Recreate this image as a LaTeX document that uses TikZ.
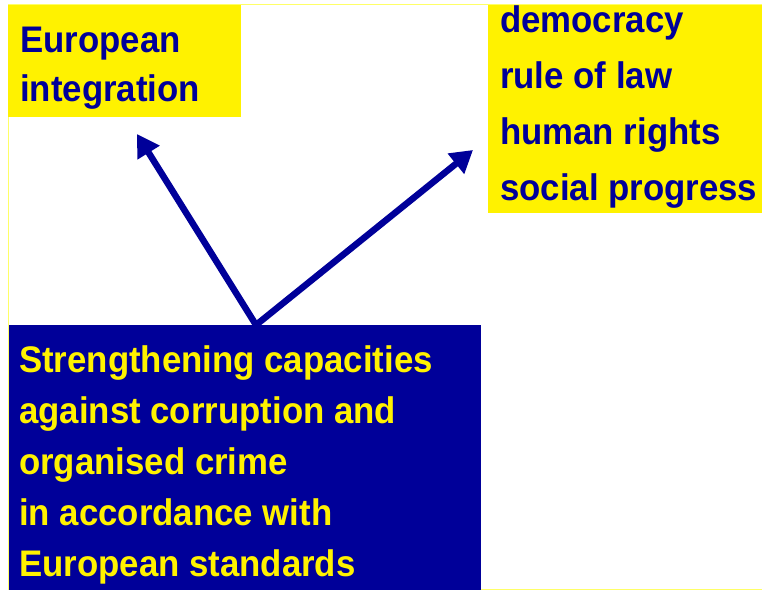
\documentclass[tikz,border=0pt]{standalone}
\usepackage{fontspec}
\setmainfont{Liberation Sans}
\newfontfamily\narrowfont[FakeStretch=0.94]{Liberation Sans}
\usetikzlibrary{arrows.meta}
\definecolor{dblue}{HTML}{000099}
\definecolor{lyellow}{HTML}{FFFF66}
\tikzset{
  ybox/.style={fill=yellow, draw=none},
  bbox/.style={fill=dblue, draw=none},
  txt/.style={anchor=base west, inner sep=0pt, font=\narrowfont\bfseries\fontsize{37bp}{#1}\selectfont},
  conn/.style={draw=dblue, line width=6.5bp, -{Triangle[length=22bp,width=25bp]}}
}
\begin{document}
\begin{tikzpicture}[x=1bp,y=-1bp]
\useasboundingbox (0,0) rectangle (762,592);
\draw[lyellow, line width=1bp] (762,5) -- (8,5) -- (8,589.5) -- (762,589.5);
\fill[ybox] (8,5) rectangle (241,117);
\fill[ybox] (488,5) rectangle (762,213);
\fill[bbox] (9,325) rectangle (481,589.5);
\coordinate (src) at (256,325);
\coordinate (tipA) at (137,134);
\coordinate (tipB) at (473,150);
\node[txt=49bp, text=dblue] (integ) at (20,53)
  {\begin{tabular}[t]{@{}l@{}}European\\ integration\end{tabular}};
\node[txt=56bp, text=dblue] (values) at (500,33)
  {\begin{tabular}[t]{@{}l@{}}democracy\\ rule of law\\ human rights\\ social progress\end{tabular}};
\node[txt=51bp, text=yellow] (strength) at (19,372)
  {\begin{tabular}[t]{@{}l@{}}Strengthening capacities\\ against corruption and\\ organised crime\\ in accordance with\\ European standards\end{tabular}};
\draw[conn] (src) -- (tipA);
\draw[conn] (src) -- (tipB);
\end{tikzpicture}
\end{document}
